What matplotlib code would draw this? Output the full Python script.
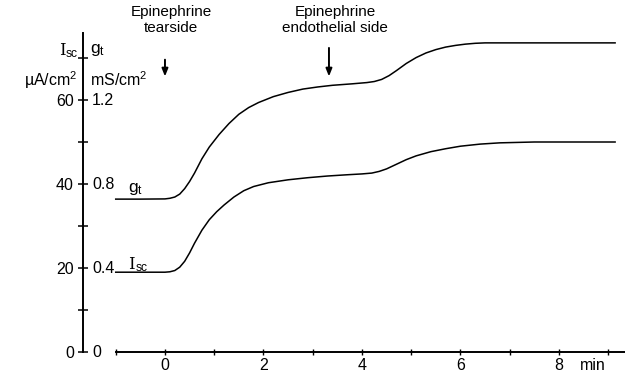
import matplotlib
matplotlib.use("Agg")
import matplotlib.pyplot as plt
from matplotlib.ticker import FixedLocator, NullFormatter
from matplotlib.transforms import offset_copy

# time (min) and traces; I_sc in uA/cm^2, g_t in mS/cm^2
t_gt = [-1.0, -0.5, 0.0, 0.1, 0.2, 0.3, 0.4, 0.5, 0.6, 0.75, 0.9, 1.1, 1.3,
        1.5, 1.7, 1.9, 2.2, 2.5, 2.8, 3.1, 3.4, 3.8, 4.1, 4.25, 4.4, 4.55, 4.7,
        4.9, 5.1, 5.3, 5.5, 5.7, 5.9, 6.1, 6.3, 6.5, 7.5, 8.5, 9.14]
g_t = [0.728, 0.728, 0.729, 0.732, 0.738, 0.752, 0.778, 0.812, 0.852, 0.920,
       0.976, 1.036, 1.088, 1.132, 1.164, 1.188, 1.216, 1.236, 1.252, 1.262,
       1.270, 1.277, 1.283, 1.288, 1.298, 1.316, 1.340, 1.374, 1.402, 1.424,
       1.440, 1.452, 1.460, 1.466, 1.470, 1.472, 1.472, 1.472, 1.472]

t_isc = [-1.0, 0.0, 0.1, 0.2, 0.3, 0.4, 0.5, 0.6, 0.75, 0.9, 1.05, 1.2, 1.4,
         1.6, 1.8, 2.1, 2.5, 2.9, 3.3, 3.7, 4.0, 4.2, 4.35, 4.5, 4.7, 4.9, 5.1,
         5.4, 5.7, 6.0, 6.4, 6.8, 7.5, 8.5, 9.14]
i_sc = [19.0, 19.0, 19.1, 19.4, 20.2, 21.6, 23.6, 25.9, 29.0, 31.5, 33.4,
        35.0, 36.9, 38.4, 39.4, 40.3, 41.0, 41.5, 41.9, 42.2, 42.4, 42.6, 43.0,
        43.6, 44.7, 45.8, 46.7, 47.7, 48.4, 49.0, 49.5, 49.8, 50.0, 50.0, 50.0]

isc_major = [0, 20, 40, 60]
isc_minor = [10, 30, 50, 70]
gt_labels = ["0", "0.4", "0.8", "1.2"]
x_major = [0, 2, 4, 6, 8]
x_minor = [-1, 1, 3, 5, 7, 9]
events = [(0.0, "Epinephrine\ntearside"), (3.33, "Epinephrine\nendothelial side")]

# 1 mS/cm^2 of g_t drawn as 50 uA/cm^2 on the shared ordinate
GT_SCALE = 50.0

FONT = "Liberation Sans"
plt.rcParams["font.family"] = [FONT, "DejaVu Sans"]
plt.rcParams["mathtext.fontset"] = "custom"
plt.rcParams["mathtext.rm"] = FONT
plt.rcParams["mathtext.it"] = FONT

fig = plt.figure(figsize=(6.25, 3.75), dpi=100)
ax = fig.add_axes([0.130, 0.00533, 0.8707, 0.952])
ax.set_xlim(-1.7, 9.35)
ax.set_ylim(-5, 80)

lw = 1.1
ax.plot(t_gt, [v * GT_SCALE for v in g_t], color="black", lw=lw, clip_on=False)
ax.plot(t_isc, i_sc, color="black", lw=lw, clip_on=False)

for s in ("top", "right"):
    ax.spines[s].set_visible(False)

yax_x = -1.665
ax.spines["left"].set_position(("data", yax_x))
ax.spines["left"].set_bounds(0, 76)
ax.spines["left"].set_linewidth(1.4)
ax.spines["bottom"].set_position(("data", 0))
ax.spines["bottom"].set_bounds(-1, 9.35)
ax.spines["bottom"].set_linewidth(1.4)

ax.yaxis.set_major_locator(FixedLocator(isc_major))
ax.yaxis.set_minor_locator(FixedLocator(isc_minor))
ax.yaxis.set_minor_formatter(NullFormatter())
ax.tick_params(axis="y", which="both", direction="inout", length=7, width=1.1,
               labelsize=11.5, pad=3.0)

ax.xaxis.set_major_locator(FixedLocator(x_major))
ax.xaxis.set_minor_locator(FixedLocator(x_minor))
ax.xaxis.set_minor_formatter(NullFormatter())
ax.tick_params(axis="x", which="both", direction="inout", length=5, width=1.0,
               labelsize=11.5, pad=1.5)

# conductance scale to the right of the ordinate
for v, lab in zip(isc_major, gt_labels):
    ax.text(-1.48, v, lab, ha="left", va="center", fontsize=11.5)


def current_symbol(x, y, size, ha="left"):
    """Roman I with a sans 'sc' subscript."""
    if ha == "right":
        ax.text(x, y, "sc", ha="right", va="center", fontsize=size * 0.72,
                transform=offset_copy(ax.transData, fig=fig, x=0, y=-3,
                                      units="points"))
        ax.text(x, y, "I", ha="right", va="center", fontsize=size,
                family="DejaVu Serif",
                transform=offset_copy(ax.transData, fig=fig, x=-size * 0.70,
                                      y=0, units="points"))
        return
    ax.text(x, y, "I", ha="left", va="center", fontsize=size,
            family="DejaVu Serif")
    ax.text(x, y, "sc", ha="left", va="center", fontsize=size * 0.72,
            transform=offset_copy(ax.transData, fig=fig, x=size * 0.45, y=-3,
                                  units="points"))


# axis headers
current_symbol(-1.77, 71.9, 12, ha="right")
ax.text(-1.77, 64.8, "µA/cm$^2$", ha="right", va="center", fontsize=11.5)
ax.text(-1.52, 71.9, r"g$_\mathrm{t}$", ha="left", va="center", fontsize=12.5)
ax.text(-1.52, 64.8, "mS/cm$^2$", ha="left", va="center", fontsize=11.5)

# trace labels
ax.text(-0.75, 38.8, r"g$_\mathrm{t}$", ha="left", va="center", fontsize=12.5)
current_symbol(-0.75, 20.9, 12)

ax.text(8.69, -3.2, "min", ha="center", va="center", fontsize=11.5)

# additions of epinephrine
for t_ev, label in events:
    ax.text(t_ev + 0.12, 79.0, label, ha="center", va="center", fontsize=11,
            linespacing=1.2)
    ax.annotate("", xy=(t_ev, 65.6), xytext=(t_ev, 72.4 if t_ev > 1 else 69.6),
                arrowprops=dict(arrowstyle="-|>,head_length=0.45,head_width=0.18",
                                color="black", lw=1.4, shrinkA=0, shrinkB=0))

fig.savefig("out.png", dpi=100)
